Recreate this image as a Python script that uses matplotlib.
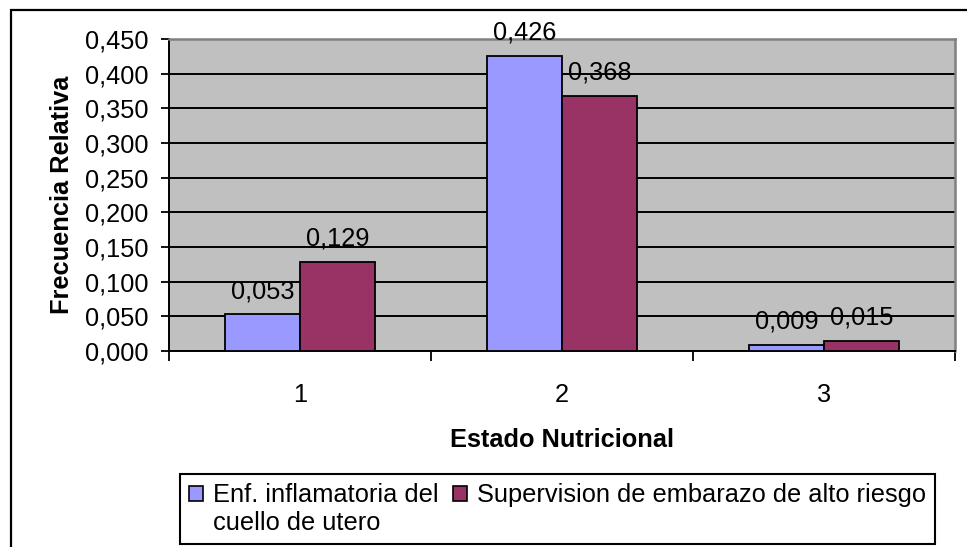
import matplotlib.pyplot as plt
from matplotlib.patches import Rectangle
from matplotlib.ticker import FixedLocator, FuncFormatter
import numpy as np

plt.rcParams['font.family'] = ['Liberation Sans', 'DejaVu Sans']

# data
categorias = ['1', '2', '3']
enf_inflamatoria = [0.053, 0.426, 0.009]
supervision_embarazo = [0.129, 0.368, 0.015]
etiquetas_serie = ['Enf. inflamatoria del', 'cuello de utero',
                   'Supervision de embarazo de alto riesgo']
y_ticks = np.arange(0, 0.451, 0.05)

fig = plt.figure(figsize=(9.67, 5.47), dpi=100)
ax = fig.add_axes([169 / 967, 1 - 351 / 547, (955 - 169) / 967, (351 - 39) / 547])

x = np.arange(1, len(categorias) + 1)
w = 1 / 3.5  # excel gap width 150%
fs = 18.3

ax.set_facecolor('#C0C0C0')
ax.bar(x - w / 2, enf_inflamatoria, w, color='#9999FF', edgecolor='black',
       linewidth=1.3, zorder=3)
ax.bar(x + w / 2, supervision_embarazo, w, color='#993366', edgecolor='black',
       linewidth=1.3, zorder=3)

# data labels
for xs, vals in [(x - w / 2, enf_inflamatoria), (x + w / 2, supervision_embarazo)]:
    for xi, v in zip(xs, vals):
        ax.annotate(f'{v:.3f}'.replace('.', ','), (xi, v), xytext=(0, 8),
                    textcoords='offset points', ha='center', va='bottom',
                    fontsize=fs, zorder=4, annotation_clip=False)

ax.set_xlim(0.5, 3.5)
ax.set_ylim(0, 0.45)
ax.set_yticks(y_ticks)
ax.yaxis.set_major_formatter(FuncFormatter(lambda v, p: f'{v:.3f}'.replace('.', ',')))
ax.grid(axis='y', color='black', linewidth=1.4, zorder=1)

ax.xaxis.set_major_locator(FixedLocator([0.5, 1.5, 2.5, 3.5]))
ax.xaxis.set_major_formatter(FuncFormatter(lambda v, p: ''))
ax.xaxis.set_minor_locator(FixedLocator(x))
ax.set_xticklabels(categorias, minor=True)
ax.tick_params(axis='x', which='major', length=7, width=1.3, direction='out')
ax.tick_params(axis='x', which='minor', length=0, pad=23, labelsize=fs)
ax.tick_params(axis='y', length=6, width=1.3, direction='out', pad=9, labelsize=fs)

for s in ['left', 'bottom']:
    ax.spines[s].set_color('black')
    ax.spines[s].set_linewidth(1.4)
for s in ['top', 'right']:
    ax.spines[s].set_color('#808080')
    ax.spines[s].set_linewidth(1.8)

ax.set_xlabel('Estado Nutricional', fontsize=fs, fontweight='bold', labelpad=15)
ax.set_ylabel('Frecuencia Relativa', fontsize=fs, fontweight='bold', labelpad=8)

# legend: second row of the first entry uses a hidden handle
handles = [Rectangle((0, 0), 1, 1, facecolor='#9999FF', edgecolor='black', linewidth=1.2),
           Rectangle((0, 0), 1, 1, facecolor='none', edgecolor='none'),
           Rectangle((0, 0), 1, 1, facecolor='#993366', edgecolor='black', linewidth=1.2)]
leg = fig.legend(handles, etiquetas_serie, ncol=2, loc='lower left',
                 bbox_to_anchor=(180 / 967, 3 / 547), fontsize=fs,
                 handlelength=0.55, handleheight=0.55, handletextpad=0.4,
                 columnspacing=0.55, labelspacing=0.15, borderpad=0.35,
                 borderaxespad=0, fancybox=False, framealpha=1)
leg.get_frame().set_edgecolor('black')
leg.get_frame().set_linewidth(1.5)

# outer chart border (runs off the right and bottom edge)
fig.patches.append(Rectangle((11 / 967, -0.1), 1.2, 1 - 10 / 547 + 0.1,
                             transform=fig.transFigure, fill=False,
                             edgecolor='black', linewidth=1.6))

fig.savefig('out.png', dpi=100)
